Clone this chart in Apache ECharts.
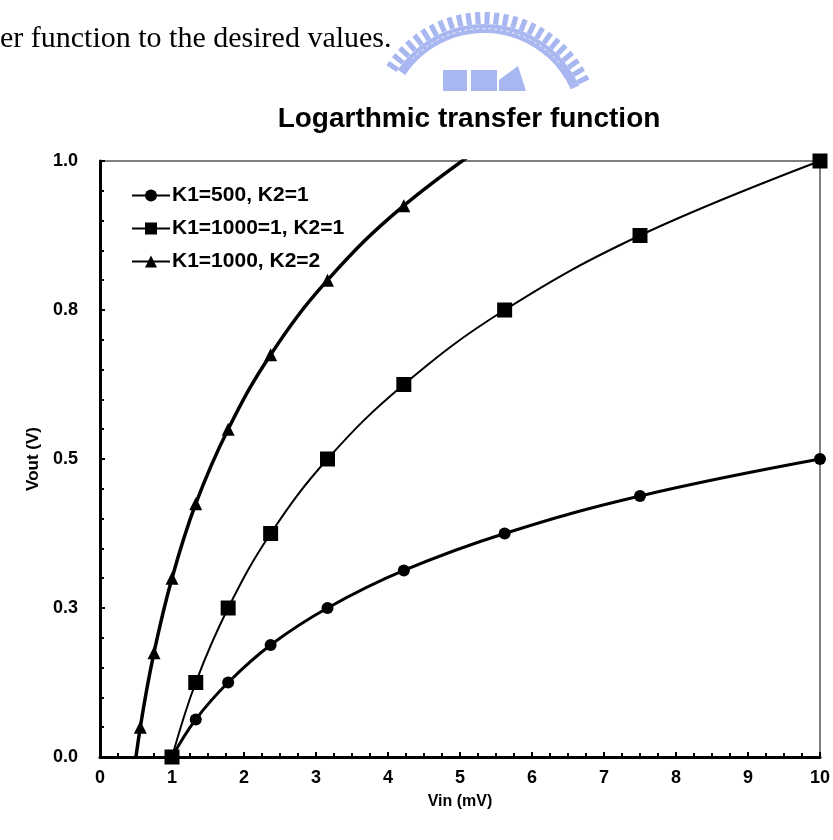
<!DOCTYPE html>
<html>
<head>
<meta charset="utf-8">
<script src="https://cdn.jsdelivr.net/npm/echarts@6/dist/echarts.min.js"></script>
<style>
html,body{margin:0;padding:0;background:#fff;}
#chart{width:833px;height:840px;}
</style>
</head>
<body>
<div id="chart"></div>
<script>
// ---- data ----
var titleText = 'Logarthmic transfer function';
var headerText = 'er function to the desired values.';
var xName = 'Vin (mV)';
var yName = 'Vout (V)';
var seriesNames = ['K1=500, K2=1', 'K1=1000=1, K2=1', 'K1=1000, K2=2'];

// Vin values (mV)
var vinMain = [1.00, 1.33, 1.78, 2.37, 3.16, 4.22, 5.62, 7.50, 10.0];
var vinTri  = [0.42, 0.56, 0.75, 1.00, 1.33, 1.78, 2.37, 3.16, 4.22, 5.62];

// Vout values (V)
var voutK500  = [0.000, 0.063, 0.125, 0.188, 0.250, 0.313, 0.375, 0.438, 0.500];
var voutK1000 = [0.000, 0.125, 0.250, 0.375, 0.500, 0.625, 0.750, 0.875, 1.000];
var voutK2    = [-0.075, 0.050, 0.175, 0.300, 0.425, 0.550, 0.675, 0.800, 0.925, 1.050];

function pairs(xs, ys){ return xs.map(function(x,i){ return [x, ys[i]]; }); }

var FONT = "'Liberation Sans', Arial, sans-serif";

// watermark decoration (faint logo at the top)
var wmColor = '#a9b7f0';
var wm = [];
var cx = 484, cy = 128;
for (var a = 214; a <= 340; a += 4.8) {
  var rad = a * Math.PI / 180;
  var px = cx + 110 * Math.cos(rad), py = cy + 110 * Math.sin(rad);
  if (py > 84) continue;
  wm.push({type:'rect', x: px, y: py, originX: 0, originY: 0, rotation: -(rad + Math.PI/2),
    shape:{x:-2.6, y:-6, width:5.2, height:12}, style:{fill: wmColor}, silent:true});
}
wm.push({type:'sector', shape:{cx:cx, cy:cy, r:104, r0:95, startAngle: 214*Math.PI/180, endAngle: 336*Math.PI/180},
  style:{fill: wmColor}, silent:true});
wm.push({type:'arc', shape:{cx:cx, cy:cy, r:99.5, startAngle: 224*Math.PI/180, endAngle: 320*Math.PI/180},
  style:{stroke:'#eef1fc', lineWidth:1, lineDash:[3,3], fill:null}, silent:true});
wm.push({type:'polygon', shape:{points:[[443,70],[467,70],[467,91],[443,91]]}, style:{fill:wmColor}, silent:true});
wm.push({type:'polygon', shape:{points:[[471,70],[497,70],[497,91],[471,91]]}, style:{fill:wmColor}, silent:true});
wm.push({type:'polygon', shape:{points:[[499,80],[518,66],[526,91],[499,91]]}, style:{fill:wmColor}, silent:true});

var chart = echarts.init(document.getElementById('chart'), null, {renderer:'canvas'});
chart.setOption({
  backgroundColor: '#fff',
  animation: false,
  title: {
    text: titleText, left: 464, top: 100, textAlign: 'center',
    textStyle: {fontFamily: FONT, fontWeight: 'bold', fontSize: 28, color: '#000'}
  },
  graphic: [
    {type:'group', children: wm},
    {type:'text', left: 0, top: 24,
      style:{text: headerText, font: "30px 'Liberation Serif', 'Times New Roman', serif", fill:'#000'}}
  ],
  legend: {
    orient: 'vertical', left: 126, top: 180,
    itemWidth: 38, itemHeight: 15, itemGap: 12,
    textStyle: {fontFamily: FONT, fontWeight: 'bold', fontSize: 21, color: '#000', padding: [0,0,0,-3]},
    data: seriesNames
  },
  grid: {left: 100, right: 9, top: 161, bottom: 83, show: true, borderColor: '#555', borderWidth: 1.5, backgroundColor: 'transparent'},
  xAxis: {
    type: 'value', min: 0, max: 10, interval: 1,
    name: xName, nameLocation: 'middle', nameGap: 37,
    nameTextStyle: {fontFamily: FONT, fontWeight: 'bold', fontSize: 16, color: '#000'},
    axisLine: {show: true, lineStyle: {color: '#000', width: 3}},
    axisTick: {show: true, inside: true, length: 5, lineStyle: {color: '#000', width: 2}},
    minorTick: {show: true, splitNumber: 4, length: 4, lineStyle: {color: '#000', width: 2}},
    splitLine: {show: false},
    axisLabel: {margin: 12, fontFamily: FONT, fontWeight: 'bold', fontSize: 18, color: '#000'}
  },
  yAxis: {
    type: 'value', min: 0, max: 1, interval: 0.25,
    name: yName, nameLocation: 'middle', nameGap: 58, nameRotate: 90,
    nameTextStyle: {fontFamily: FONT, fontWeight: 'bold', fontSize: 17, color: '#000'},
    axisLine: {show: true, lineStyle: {color: '#000', width: 3}},
    axisTick: {show: true, inside: true, length: 5, lineStyle: {color: '#000', width: 2}},
    minorTick: {show: true, splitNumber: 5, length: 4, lineStyle: {color: '#000', width: 2}},
    splitLine: {show: false},
    axisLabel: {margin: 22, fontFamily: FONT, fontWeight: 'bold', fontSize: 18, color: '#000',
      formatter: function(v){ return v.toFixed(1); }}
  },
  series: [
    {name: seriesNames[0], type: 'line', data: pairs(vinMain, voutK500), smooth: 0.4, clip: true,
     symbol: 'circle', symbolSize: 12, lineStyle: {color:'#000', width: 3}, itemStyle: {color:'#000'}, z: 3},
    {name: seriesNames[1], type: 'line', data: pairs(vinMain, voutK1000), smooth: 0.4, clip: true,
     symbol: 'rect', symbolSize: 15, lineStyle: {color:'#000', width: 2}, itemStyle: {color:'#000'}, z: 4},
    {name: seriesNames[2], type: 'line', data: pairs(vinTri, voutK2), smooth: 0.4, clip: true,
     symbol: 'triangle', symbolSize: 13, lineStyle: {color:'#000', width: 3.5}, itemStyle: {color:'#000'}, z: 3}
  ]
});
</script>
</body>
</html>
